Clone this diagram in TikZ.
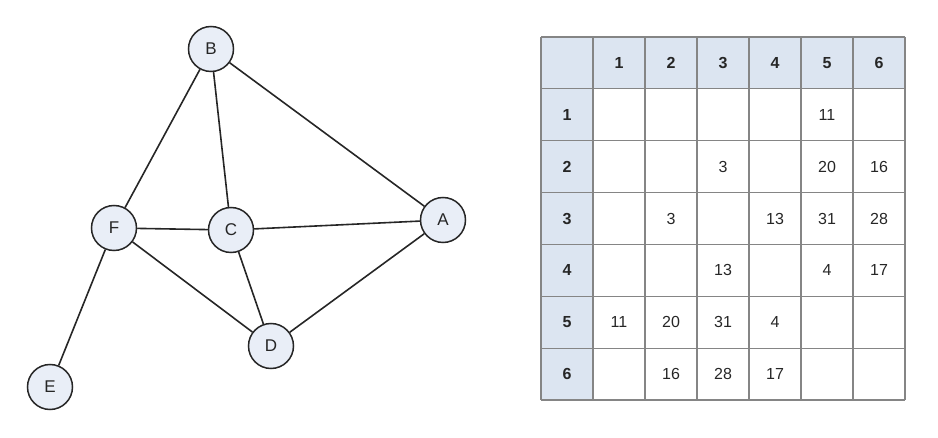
\documentclass[tikz,border=0pt]{standalone}
\usepackage{fontspec}
\setmainfont{Liberation Sans}
\definecolor{nodefill}{HTML}{E9EEF7}
\definecolor{headfill}{HTML}{DCE5F1}
\definecolor{gridline}{HTML}{858585}
\definecolor{ink}{HTML}{262626}
\begin{document}
\begin{tikzpicture}[x=1pt,y=-1pt,
  vertex/.style={circle,draw=ink,line width=1.5pt,fill=nodefill,minimum size=45pt,inner sep=0pt,text=ink,font=\fontsize{17}{20}\selectfont},
  edge/.style={line width=1.6pt,ink},
  cell/.style={text=ink,font=\fontsize{16}{19}\selectfont},
  head/.style={text=ink,font=\bfseries\fontsize{16}{19}\selectfont}]
\useasboundingbox (0,0) rectangle (938,438);
% graph
\node (B) [vertex] at (211,49) {B};
\node (F) [vertex] at (114,228) {F};
\node (C) [vertex] at (231,230) {C};
\node (A) [vertex] at (443,220) {A};
\node (D) [vertex] at (271,346) {D};
\node (E) [vertex] at (50,387) {E};
\draw[edge] (B) -- (F);
\draw[edge] (B) -- (C);
\draw[edge] (B) -- (A);
\draw[edge] (F) -- (C);
\draw[edge] (C) -- (A);
\draw[edge] (F) -- (D);
\draw[edge] (C) -- (D);
\draw[edge] (D) -- (A);
\draw[edge] (F) -- (E);
% matrix
\fill[headfill] (541,37) rectangle (905,89);
\fill[headfill] (541,89) rectangle (593,400);
\foreach \i in {0,...,7} {
  \draw[gridline,line width=1.2pt] (541+52*\i,37) -- (541+52*\i,400);
  \draw[gridline,line width=1.2pt] (541,37+51.857*\i) -- (905,37+51.857*\i);
}
\foreach \i in {1,...,6} {
  \node (col\i) [head] at (541+52*\i+26,63) {\i};
  \node (row\i) [head] at (567,37+51.857*\i+26) {\i};
}
\foreach \r/\c/\v in {1/5/11, 2/3/3, 2/5/20, 2/6/16, 3/2/3, 3/4/13, 3/5/31, 3/6/28,
  4/3/13, 4/5/4, 4/6/17, 5/1/11, 5/2/20, 5/3/31, 5/4/4, 6/2/16, 6/3/28, 6/4/17}
  \node (m\r\c) [cell] at (541+52*\c+26,37+51.857*\r+26) {\v};
\end{tikzpicture}
\end{document}
